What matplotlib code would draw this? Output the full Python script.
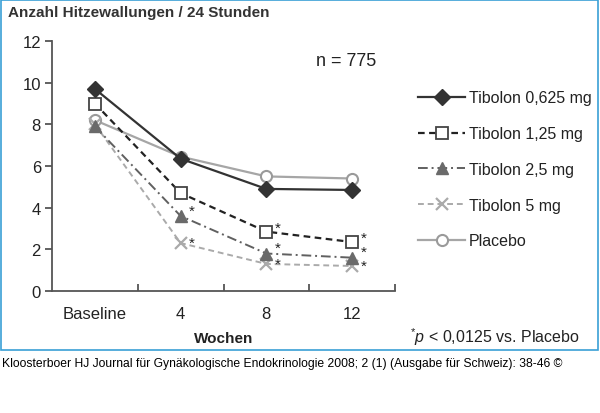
import matplotlib
matplotlib.use("Agg")
import matplotlib.pyplot as plt
from matplotlib.patches import Rectangle

plt.rcParams['font.family'] = ['Liberation Sans', 'DejaVu Sans']
plt.rcParams['mathtext.fontset'] = 'custom'
plt.rcParams['mathtext.rm'] = 'Liberation Sans'
plt.rcParams['mathtext.it'] = 'Liberation Sans:italic'

weeks = ["Baseline", "4", "8", "12"]
tib_0625 = [9.7, 6.35, 4.9, 4.85]
tib_125 = [9.0, 4.7, 2.85, 2.35]
tib_25 = [7.9, 3.6, 1.8, 1.6]
tib_5 = [8.0, 2.3, 1.3, 1.2]
placebo = [8.2, 6.45, 5.5, 5.4]
# which points carry a significance star
star_125 = [False, False, True, True]
star_25 = [False, True, True, True]
star_5 = [False, True, True, True]

fig = plt.figure(figsize=(6.0, 4.14), dpi=100)
ax = fig.add_axes([52/600, 1-292/414, 343/600, 250/414])
x = range(len(weeks))

ax.plot(x, placebo, '-', color='#a6a6a6', lw=1.6, marker='o', ms=8,
        mfc='white', mec='#9a9a9a', mew=1.5, label='Placebo', zorder=2)
ax.plot(x, tib_5, color='#aaaaaa', lw=1.4, ls=(0, (3, 2)), marker='x', ms=9,
        mec='#aaaaaa', mew=1.6, label='Tibolon 5 mg', zorder=3)
ax.plot(x, tib_25, color='#606060', lw=1.4, ls=(0, (5, 2, 1, 2)), marker='^', ms=9,
        mfc='#6a6a6a', mec='#6a6a6a', label='Tibolon 2,5 mg', zorder=3)
ax.plot(x, tib_125, color='#222222', lw=1.6, ls=(0, (3, 2)), marker='s', ms=8,
        mfc='white', mec='#444444', mew=1.3, label='Tibolon 1,25 mg', zorder=3)
ax.plot(x, tib_0625, '-', color='#333333', lw=1.6, marker='D', ms=8.5,
        mfc='#333333', mec='#333333', label='Tibolon 0,625 mg', zorder=4)

# star offsets (points) per series
for vals, stars, dy in [(tib_125, star_125, 3), (tib_25, star_25, 4), (tib_5, star_5, 0)]:
    for i, (v, s) in enumerate(zip(vals, stars)):
        if s:
            ax.annotate('*', (i, v), xytext=(8, dy), textcoords='offset points',
                        ha='center', va='center', fontsize=11, color='#222222')

ax.set_xlim(-0.5, 3.5)
ax.set_ylim(0, 12)
ax.set_yticks(range(0, 13, 2))
ax.set_xticks(list(x))
ax.set_xticklabels(weeks)
ax.set_xticks([0.5, 1.5, 2.5, 3.5], minor=True)
ax.tick_params(axis='x', which='major', length=0, pad=11, labelsize=12, labelcolor='#222222')
ax.tick_params(axis='x', which='minor', direction='in', length=5, width=1.3, color='#555555')
ax.tick_params(axis='y', direction='out', length=5, width=1.3, color='#555555',
               labelsize=12, labelcolor='#222222', pad=3)
for s in ['top', 'right']:
    ax.spines[s].set_visible(False)
for s in ['left', 'bottom']:
    ax.spines[s].set_color('#555555')
    ax.spines[s].set_linewidth(1.3)
ax.set_xlabel('Wochen', fontsize=11, fontweight='bold', color='#222222', labelpad=7)

ax.text((346 - 52) / 343, 1-(61-42)/250, 'n = 775', transform=ax.transAxes,
        ha='center', va='center', fontsize=13, color='#222222')

handles, labels = ax.get_legend_handles_labels()
leg = fig.legend(handles[::-1], labels[::-1], loc='upper left',
                 bbox_to_anchor=(404/600, 1-77/414), frameon=False,
                 fontsize=11.5, handlelength=2.9, handletextpad=0.25, labelspacing=1.3)
for t in leg.get_texts():
    t.set_color('#222222')

fig.text(8/600, 1-13/414, 'Anzahl Hitzewallungen / 24 Stunden', ha='left', va='center',
         fontsize=11, fontweight='bold', color='#333333')
fig.text(580/600, 1-337/414, r'$^{*}\mathit{p}$ < 0,0125 vs. Placebo', ha='right',
         va='center', fontsize=11.5, color='#222222')
fig.text(2/600, 1-364/414,
         'Kloosterboer HJ Journal f\u00fcr Gyn\u00e4kologische Endokrinologie 2008; 2 (1) '
         '(Ausgabe f\u00fcr Schweiz): 38-46 \u00a9',
         ha='left', va='center', fontsize=8.7, color='black')

fig.patches.append(Rectangle((1/600, 1-351/414), 597/600, 350/414, transform=fig.transFigure,
                             fill=False, edgecolor='#3aa0d6', lw=1.2))

fig.savefig('out.png', dpi=100)
